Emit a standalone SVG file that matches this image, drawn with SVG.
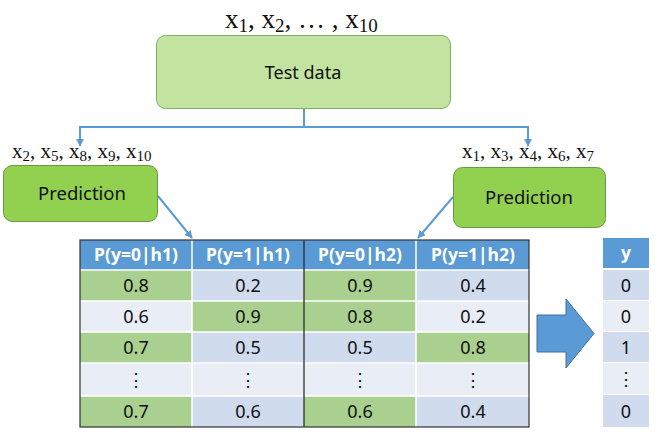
<svg xmlns="http://www.w3.org/2000/svg" width="663" height="439" viewBox="0 0 663 439">
<defs>
<style>
.math{font-family:"Liberation Serif","DejaVu Serif",serif;fill:#111}
.lbl{font-family:"Noto Sans","Open Sans",sans-serif;fill:#111;text-anchor:middle}
.hdr{font-family:"Noto Sans","Open Sans",sans-serif;fill:#fff;font-weight:bold;font-size:17.5px;text-anchor:middle}
.cell{font-family:"Noto Sans","Open Sans",sans-serif;fill:#111;font-size:18px;text-anchor:middle}
.conn{stroke:#5b9bd5;stroke-width:2;fill:none}
.g{fill:#a9d08e}.b{fill:#d0dbee}.l{fill:#e9edf6}.h{fill:#5b9bd5}
</style>
<marker id="ah" viewBox="0 0 10 10" refX="9" refY="5" markerWidth="4" markerHeight="4" orient="auto" markerUnits="strokeWidth">
<path d="M0,0 L10,5 L0,10 z" fill="#5b9bd5"/>
</marker>
</defs>
<rect width="663" height="439" fill="#fff"/>

<text class="math" x="225" y="28" font-size="27">x<tspan font-size="19" dy="4">1</tspan><tspan dy="-4">, x</tspan><tspan font-size="19" dy="4">2</tspan><tspan dy="-4">, … , x</tspan><tspan font-size="19" dy="4">10</tspan></text>

<g id="testdata">
<rect x="156.5" y="35.5" width="294" height="73" rx="9" fill="#c3e3a0" stroke="#7fae5c" stroke-width="1"/>
<text class="lbl" x="303" y="79" font-size="18">Test data</text>
</g>

<g id="connectors">
<path class="conn" d="M304,109 V127 M80,127 H528"/>
<path class="conn" d="M80,126 V146" marker-end="url(#ah)"/>
<path class="conn" d="M528,126 V146" marker-end="url(#ah)"/>
<path class="conn" d="M158,196 L192,238" marker-end="url(#ah)"/>
<path class="conn" d="M453,197 L418,238" marker-end="url(#ah)"/>
</g>

<text class="math" x="12" y="158" font-size="21">x<tspan font-size="15" dy="3">2</tspan><tspan dy="-3">, x</tspan><tspan font-size="15" dy="3">5</tspan><tspan dy="-3">, x</tspan><tspan font-size="15" dy="3">8</tspan><tspan dy="-3">, x</tspan><tspan font-size="15" dy="3">9</tspan><tspan dy="-3">, x</tspan><tspan font-size="15" dy="3">10</tspan></text>
<text class="math" x="462" y="158" font-size="21">x<tspan font-size="15" dy="3">1</tspan><tspan dy="-3">, x</tspan><tspan font-size="15" dy="3">3</tspan><tspan dy="-3">, x</tspan><tspan font-size="15" dy="3">4</tspan><tspan dy="-3">, x</tspan><tspan font-size="15" dy="3">6</tspan><tspan dy="-3">, x</tspan><tspan font-size="15" dy="3">7</tspan></text>

<g id="pred1">
<rect x="3.5" y="165.5" width="154" height="56" rx="9" fill="#92d050" stroke="#6a9a3a" stroke-width="1"/>
<text class="lbl" x="82" y="200" font-size="18.5">Prediction</text>
</g>
<g id="pred2">
<rect x="453.5" y="167.5" width="152" height="60" rx="9" fill="#92d050" stroke="#6a9a3a" stroke-width="1"/>
<text class="lbl" x="529" y="204" font-size="18.5">Prediction</text>
</g>

<g id="table">
<rect class="h" x="80" y="240" width="449" height="30"/>
<rect class="g" x="80" y="270" width="112" height="31"/><rect class="b" x="192" y="270" width="112" height="31"/><rect class="g" x="304" y="270" width="112" height="31"/><rect class="b" x="416" y="270" width="113" height="31"/>
<rect class="l" x="80" y="301" width="112" height="31"/><rect class="g" x="192" y="301" width="112" height="31"/><rect class="g" x="304" y="301" width="112" height="31"/><rect class="l" x="416" y="301" width="113" height="31"/>
<rect class="g" x="80" y="332" width="112" height="31"/><rect class="b" x="192" y="332" width="112" height="31"/><rect class="b" x="304" y="332" width="112" height="31"/><rect class="g" x="416" y="332" width="113" height="31"/>
<rect class="l" x="80" y="363" width="449" height="33"/>
<rect class="g" x="80" y="396" width="112" height="31"/><rect class="b" x="192" y="396" width="112" height="31"/><rect class="g" x="304" y="396" width="112" height="31"/><rect class="b" x="416" y="396" width="113" height="31"/>
<path d="M80,270 H529 M80,301 H529 M80,332 H529 M80,363 H529 M80,396 H529 M192,240 V427 M416,240 V427" stroke="#fff" stroke-width="1.5"/>
<path d="M304,240 V427" stroke="#222" stroke-width="1.2"/>
<rect x="80" y="240" width="449" height="187" fill="none" stroke="#333" stroke-width="1.2"/>
<text class="hdr" x="136" y="261">P(y=0|h1)</text><text class="hdr" x="248" y="261">P(y=1|h1)</text><text class="hdr" x="360" y="261">P(y=0|h2)</text><text class="hdr" x="473" y="261">P(y=1|h2)</text>
<text class="cell" x="136" y="292">0.8</text><text class="cell" x="248" y="292">0.2</text><text class="cell" x="360" y="292">0.9</text><text class="cell" x="473" y="292">0.4</text>
<text class="cell" x="136" y="323">0.6</text><text class="cell" x="248" y="323">0.9</text><text class="cell" x="360" y="323">0.8</text><text class="cell" x="473" y="323">0.2</text>
<text class="cell" x="136" y="354">0.7</text><text class="cell" x="248" y="354">0.5</text><text class="cell" x="360" y="354">0.5</text><text class="cell" x="473" y="354">0.8</text>
<text class="cell" x="136" y="386">⋮</text><text class="cell" x="248" y="386">⋮</text><text class="cell" x="360" y="386">⋮</text><text class="cell" x="473" y="386">⋮</text>
<text class="cell" x="136" y="418">0.7</text><text class="cell" x="248" y="418">0.6</text><text class="cell" x="360" y="418">0.6</text><text class="cell" x="473" y="418">0.4</text>
</g>

<g id="bigarrow">
<polygon points="537,315 566,315 566,299 594,333.5 566,368 566,352 537,352" fill="#5b9bd5" stroke="#41719c" stroke-width="1"/>
</g>

<g id="ycol">
<rect class="h" x="603" y="238" width="46" height="30"/>
<rect class="b" x="603" y="270" width="46" height="30"/>
<rect class="l" x="603" y="301" width="46" height="30"/>
<rect class="b" x="603" y="332" width="46" height="30"/>
<rect class="l" x="603" y="363" width="46" height="31"/>
<rect class="b" x="603" y="395" width="46" height="32"/>
<text class="hdr" x="626" y="259">y</text>
<text class="cell" x="626" y="292">0</text>
<text class="cell" x="626" y="323">0</text>
<text class="cell" x="626" y="354">1</text>
<text class="cell" x="626" y="385" font-size="14">⋮</text>
<text class="cell" x="626" y="418">0</text>
</g>
</svg>
